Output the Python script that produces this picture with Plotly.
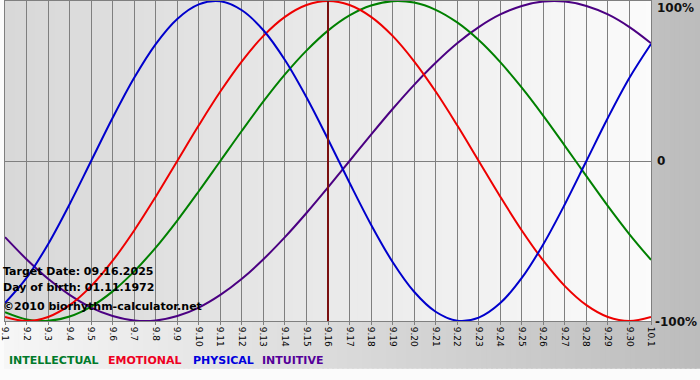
import plotly.graph_objects as go

# ---- data ----
day_labels = ["9.1", "9.2", "9.3", "9.4", "9.5", "9.6", "9.7", "9.8", "9.9", "9.10",
              "9.11", "9.12", "9.13", "9.14", "9.15", "9.16", "9.17", "9.18", "9.19", "9.20",
              "9.21", "9.22", "9.23", "9.24", "9.25", "9.26", "9.27", "9.28", "9.29", "9.30", "10.1"]

physical = [-0.888, -0.731, -0.520, -0.270, 0.000, 0.270, 0.520, 0.731, 0.888, 0.979,
            0.998, 0.942, 0.817, 0.631, 0.398, 0.136, -0.136, -0.398, -0.631, -0.817,
            -0.942, -0.998, -0.979, -0.888, -0.731, -0.520, -0.270, 0.000, 0.270, 0.520, 0.731]

emotional = [-0.975, -1.000, -0.975, -0.901, -0.782, -0.623, -0.434, -0.223, 0.000, 0.223,
             0.434, 0.623, 0.782, 0.901, 0.975, 1.000, 0.975, 0.901, 0.782, 0.623,
             0.434, 0.223, 0.000, -0.223, -0.434, -0.623, -0.782, -0.901, -0.975, -1.000, -0.975]

intellectual = [-0.945, -0.990, -0.999, -0.972, -0.910, -0.815, -0.690, -0.541, -0.372, -0.189,
                0.000, 0.189, 0.372, 0.541, 0.690, 0.815, 0.910, 0.972, 0.999, 0.990,
                0.945, 0.866, 0.756, 0.618, 0.458, 0.282, 0.095, -0.095, -0.282, -0.458, -0.618]

intuitive = [-0.476, -0.614, -0.736, -0.837, -0.916, -0.969, -0.997, -0.997, -0.969, -0.916,
             -0.837, -0.736, -0.614, -0.476, -0.325, -0.165, 0.000, 0.165, 0.325, 0.476,
             0.614, 0.736, 0.837, 0.916, 0.969, 0.997, 0.997, 0.969, 0.916, 0.837, 0.736]

target_label = "9.16"
info_lines = ["Target Date: 09.16.2025", "Day of birth: 01.11.1972", "\u00a92010 biorhythm-calculator.net"]
axis_labels = ["100%", "0", "-100%"]
axis_values = [1, 0, -1]
legend_names = ["INTELLECTUAL", "EMOTIONAL", "PHYSICAL", "INTUITIVE"]

# ---- styling ----
W, H = 700, 380
L, R, T, B = 1, 49, 0, 59
PW, PH = W - L - R, H - T - B

colors = {"INTELLECTUAL": "#008000", "EMOTIONAL": "#ee0000",
          "PHYSICAL": "#0000cc", "INTUITIVE": "#4b0082"}
legend_colors = {"INTELLECTUAL": "#007a2a", "EMOTIONAL": "#ee0022",
                 "PHYSICAL": "#0000dd", "INTUITIVE": "#550099"}

x = list(range(len(day_labels)))
series = {"INTELLECTUAL": intellectual, "EMOTIONAL": emotional,
          "PHYSICAL": physical, "INTUITIVE": intuitive}

fig = go.Figure()
for name in ["INTUITIVE", "INTELLECTUAL", "EMOTIONAL", "PHYSICAL"]:
    fig.add_trace(go.Scatter(x=x, y=series[name], mode="lines", name=name,
                             line=dict(color=colors[name], width=2, shape="spline", smoothing=1.0),
                             showlegend=False, hoverinfo="skip"))


def px2paper_x(px):
    return (px - L) / PW


def px2paper_y(py):
    return (H - B - py) / PH


def lerp_gray(a, b, t):
    v = round(a + (b - a) * t)
    return f"rgb({v},{v},{v})"


shapes = []
# outer gradient (left light -> right dark); strips overlap to avoid seams
step = 5
for px in range(0, W, step):
    t = px / W
    shapes.append(dict(type="rect", xref="paper", yref="paper",
                       x0=px2paper_x(px), x1=px2paper_x(px + step + 2),
                       y0=px2paper_y(369), y1=px2paper_y(-1),
                       fillcolor=lerp_gray(246, 188, t), line=dict(width=0), layer="below"))
# plot area gradient (left gray -> right white)
for px in range(L, L + PW, step):
    t = (px - L) / PW
    shapes.append(dict(type="rect", xref="paper", yref="paper",
                       x0=px2paper_x(px), x1=px2paper_x(min(px + step + 2, L + PW)),
                       y0=0, y1=1,
                       fillcolor=lerp_gray(216, 251, t), line=dict(width=0), layer="below"))

# target date line
ti = day_labels.index(target_label)
shapes.append(dict(type="line", xref="x", yref="paper", x0=ti, x1=ti, y0=0, y1=1,
                   line=dict(color="#7a1010", width=2), layer="above"))

annotations = []
font_b = "DejaVu Sans"
info_y = [271, 287, 306]
for txt, py in zip(info_lines, info_y):
    annotations.append(dict(text=f"<b>{txt}</b>", xref="paper", yref="paper",
                            x=px2paper_x(-3), y=px2paper_y(py), xanchor="left", yanchor="middle",
                            showarrow=False, font=dict(family=font_b, size=11, color="#000000")))

label_py = [7, 161, 322]
label_px = [655, 655, 653]
for lab, val, py, lx in zip(axis_labels, axis_values, label_py, label_px):
    annotations.append(dict(text=f"<b>{lab}</b>", xref="paper", yref="paper",
                            x=px2paper_x(lx), y=px2paper_y(py), xanchor="left", yanchor="middle",
                            showarrow=False, font=dict(family=font_b, size=12, color="#111111")))

legend_x = [3, 103, 188, 258]
for name, lx in zip(legend_names, legend_x):
    annotations.append(dict(text=f"<b>{name}</b>", xref="paper", yref="paper",
                            x=px2paper_x(lx), y=px2paper_y(361), xanchor="left", yanchor="middle",
                            showarrow=False, font=dict(family=font_b, size=11, color=legend_colors[name])))

fig.update_layout(
    width=W, height=H,
    margin=dict(l=L, r=R, t=T, b=B, pad=0),
    paper_bgcolor="#fbfbfb",
    plot_bgcolor="rgba(0,0,0,0)",
    shapes=shapes,
    annotations=annotations,
    showlegend=False,
    xaxis=dict(range=[0, len(day_labels) - 1], tickmode="array", tickvals=x, ticktext=day_labels,
               tickangle=90, tickfont=dict(family="DejaVu Sans", size=9, color="#000000"),
               ticklabeloverflow="allow",
               showgrid=True, gridcolor="#7f7f7f", gridwidth=1, zeroline=False,
               showline=True, linecolor="#7f7f7f", linewidth=1, mirror=True,
               ticks="outside", ticklen=3, tickcolor="#7f7f7f", fixedrange=True),
    yaxis=dict(range=[-1, 1], showticklabels=False, showgrid=False,
               zeroline=True, zerolinecolor="#7f7f7f", zerolinewidth=1,
               showline=True, linecolor="#7f7f7f", linewidth=1, mirror=True,
               ticks="", fixedrange=True),
)

fig.write_html("out.html", config={"displayModeBar": False},
               post_script="document.body.style.margin='0';document.body.style.overflow='hidden';")
